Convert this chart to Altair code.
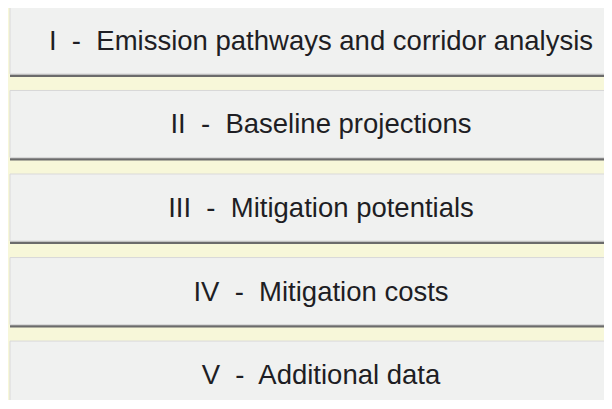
import altair as alt
import pandas as pd

numerals = ["I", "II", "III", "IV", "V"]
titles = [
    "Emission pathways and corridor analysis",
    "Baseline projections",
    "Mitigation potentials",
    "Mitigation costs",
    "Additional data",
]

labels = [f"{n}\u00a0 -\u00a0 {t}" for n, t in zip(numerals, titles)]
df = pd.DataFrame({"label": labels})

yscale = alt.Scale(range=[-1, 403], paddingInner=0.164, paddingOuter=0)
Y = alt.Y("label:N", sort=None, scale=yscale, axis=None)

base = alt.Chart(df)

dark = base.mark_bar(size=70, color="#6b6b6b").encode(
    y=Y, x=alt.value(2), x2=alt.value(700)
)
mid = base.mark_bar(size=68, yOffset=-1, color="#a9a9a9").encode(
    y=Y, x=alt.value(2), x2=alt.value(700)
)
face = base.mark_bar(
    size=67, yOffset=-1.5, color="#f0f1f0", stroke="#d9d9d9", strokeWidth=1
).encode(y=Y, x=alt.value(2), x2=alt.value(700))

text = base.mark_text(
    fontSize=27.5,
    font="Liberation Sans",
    color="#1e1e24",
    align="center",
    baseline="middle",
    dy=0,
).encode(y=Y, x=alt.value(313), text="label:N")

chart = (
    alt.layer(dark, mid, face, text)
    .properties(
        width=596,
        height=392,
        autosize=alt.AutoSizeParams(type="none"),
        padding=0,
        background="#f7f7d9",
    )
    .configure_view(stroke=None)
)

chart.save("out.html", embed_options={"renderer": "svg", "actions": False})
